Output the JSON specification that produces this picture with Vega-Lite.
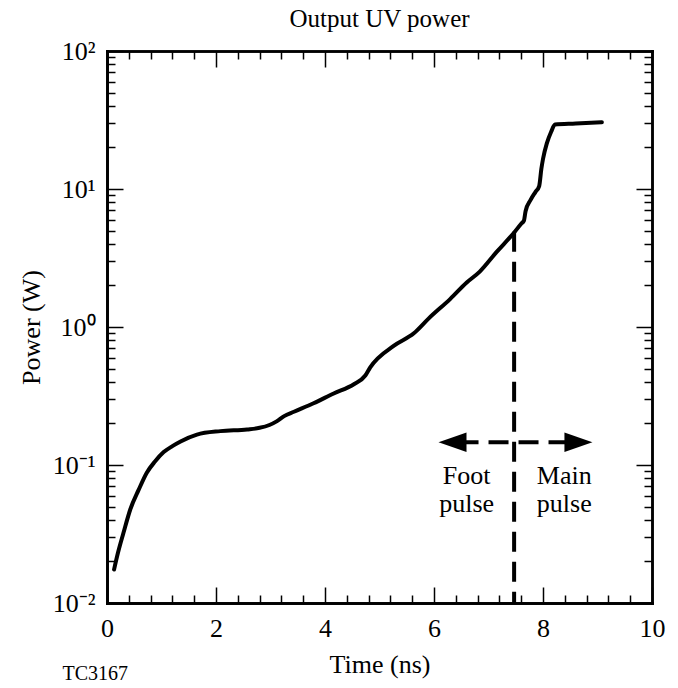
{
  "$schema": "https://vega.github.io/schema/vega-lite/v6.json",
  "width": 545,
  "height": 552,
  "autosize": {"type": "none"},
  "padding": {"left": 107, "top": 51, "right": 26, "bottom": 85},
  "background": "white",
  "config": {
    "view": {"stroke": null},
    "font": "Liberation Serif",
    "axis": {
      "grid": false,
      "domainColor": "black",
      "domainWidth": 2.5,
      "domainCap": "square",
      "tickColor": "black",
      "tickWidth": 1.5,
      "labelColor": "black",
      "labelFont": "Liberation Serif",
      "labelFontSize": 26,
      "titleFont": "Liberation Serif",
      "titleFontSize": 26,
      "titleFontWeight": "normal",
      "titleColor": "black",
      "labelFlush": false,
      "labelOverlap": false
    }
  },
  "title": {"text": "Output UV power", "font": "Liberation Serif", "fontSize": 25, "fontWeight": "normal", "color": "black", "offset": 6},
  "datasets": {
    "curve": [
      {"t": 0.13, "p": 0.0175}, {"t": 0.2, "p": 0.023}, {"t": 0.3, "p": 0.032}, {"t": 0.43, "p": 0.048},
      {"t": 0.58, "p": 0.066}, {"t": 0.73, "p": 0.088}, {"t": 0.88, "p": 0.106}, {"t": 1.04, "p": 0.124},
      {"t": 1.2, "p": 0.137}, {"t": 1.35, "p": 0.148}, {"t": 1.65, "p": 0.166}, {"t": 2.08, "p": 0.176},
      {"t": 2.57, "p": 0.181}, {"t": 2.8, "p": 0.186}, {"t": 2.98, "p": 0.195}, {"t": 3.12, "p": 0.208},
      {"t": 3.25, "p": 0.226}, {"t": 3.43, "p": 0.243},
      {"t": 3.79, "p": 0.28}, {"t": 4.16, "p": 0.33}, {"t": 4.53, "p": 0.385}, {"t": 4.74, "p": 0.445},
      {"t": 4.83, "p": 0.51}, {"t": 5.26, "p": 0.73}, {"t": 5.63, "p": 0.9}, {"t": 5.9, "p": 1.15},
      {"t": 6.3, "p": 1.6}, {"t": 6.6, "p": 2.1}, {"t": 6.84, "p": 2.52}, {"t": 7.15, "p": 3.5},
      {"t": 7.46, "p": 4.78}, {"t": 7.6, "p": 5.6}, {"t": 7.65, "p": 5.9}, {"t": 7.68, "p": 6.9},
      {"t": 7.77, "p": 8.3}, {"t": 7.86, "p": 9.5}, {"t": 7.93, "p": 10.5}, {"t": 7.97, "p": 14},
      {"t": 8.0, "p": 16.5}, {"t": 8.07, "p": 21.4}, {"t": 8.15, "p": 26}, {"t": 8.22, "p": 29.3},
      {"t": 8.6, "p": 29.8}, {"t": 9.08, "p": 30.5}
    ],
    "vline": [{"t": 7.47, "p": 4.9, "p2": 0.01}],
    "hline": [{"t": 6.45, "t2": 8.55, "p": 0.146}],
    "heads": [{"t": 6.34, "p": 0.146, "dir": "left"}, {"t": 8.65, "p": 0.146, "dir": "right"}],
    "notes": [
      {"t": 6.6, "p": 0.0728, "label": "Foot"},
      {"t": 6.6, "p": 0.0459, "label": "pulse"},
      {"t": 8.39, "p": 0.0728, "label": "Main"},
      {"t": 8.39, "p": 0.0459, "label": "pulse"}
    ]
  },
  "layer": [
    {
      "data": {"name": "curve"},
      "mark": {"type": "line", "color": "black", "strokeWidth": 4, "strokeJoin": "round", "strokeCap": "round", "interpolate": "monotone"},
      "encoding": {
        "x": {"field": "t", "type": "quantitative",
          "scale": {"domain": [0, 10], "nice": false, "zero": false},
          "axis": {"orient": "bottom", "values": [0, 2, 4, 6, 8, 10], "ticks": false, "labelPadding": 12, "title": "Time (ns)", "titlePadding": 10}},
        "y": {"field": "p", "type": "quantitative",
          "scale": {"type": "log", "domain": [0.01, 100], "nice": false},
          "axis": {"orient": "left", "values": [0.01, 0.1, 1, 10, 100], "ticks": false, "labelPadding": 12,
            "labelExpr": "datum.value >= 50 ? '10²' : datum.value >= 5 ? '10¹' : datum.value >= 0.5 ? '10⁰' : datum.value >= 0.05 ? '10⁻¹' : '10⁻²'",
            "title": "Power (W)", "titlePadding": 8}}
      }
    },
    {
      "data": {"name": "vline"},
      "mark": {"type": "rule", "color": "black", "strokeWidth": 4, "strokeDash": [20, 10]},
      "encoding": {
        "x": {"field": "t", "type": "quantitative",
          "axis": {"orient": "bottom", "values": [0, 2, 4, 6, 8, 10], "labels": false, "tickSize": -16,
            "title": "TC3167", "titleAnchor": "start", "titleAlign": "left", "titleX": -45, "titleY": 76,
            "titleBaseline": "alphabetic", "titleFontSize": 20}},
        "y": {"field": "p", "type": "quantitative",
          "axis": {"orient": "left", "values": [0.01, 0.1, 1, 10, 100], "labels": false, "tickSize": -16, "title": null}},
        "y2": {"field": "p2"}
      }
    },
    {
      "data": {"name": "hline"},
      "mark": {"type": "rule", "color": "black", "strokeWidth": 4, "strokeDash": [20, 10]},
      "encoding": {
        "x": {"field": "t", "type": "quantitative",
          "axis": {"orient": "bottom", "values": [0.4, 0.8, 1.2, 1.6, 2.4, 2.8, 3.2, 3.6, 4.4, 4.8, 5.2, 5.6, 6.4, 6.8, 7.2, 7.6, 8.4, 8.8, 9.2, 9.6],
            "labels": false, "tickSize": -8, "title": null}},
        "x2": {"field": "t2"},
        "y": {"field": "p", "type": "quantitative",
          "axis": {"orient": "left", "values": [0.02, 0.03, 0.04, 0.05, 0.06, 0.07, 0.08, 0.09, 0.2, 0.3, 0.4, 0.5, 0.6, 0.7, 0.8, 0.9, 2, 3, 4, 5, 6, 7, 8, 9, 20, 30, 40, 50, 60, 70, 80, 90],
            "labels": false, "tickSize": -8, "title": null}}
      }
    },
    {
      "data": {"name": "heads"},
      "mark": {"type": "point", "filled": true, "color": "black", "opacity": 1, "size": 784, "strokeWidth": 0},
      "encoding": {
        "x": {"field": "t", "type": "quantitative",
          "axis": {"orient": "top", "values": [0, 2, 4, 6, 8, 10], "labels": false, "tickSize": -16, "title": null}},
        "y": {"field": "p", "type": "quantitative",
          "axis": {"orient": "right", "values": [0.01, 0.1, 1, 10, 100], "labels": false, "tickSize": -16, "title": null}},
        "shape": {"field": "dir", "type": "nominal",
          "scale": {"domain": ["left", "right"], "range": ["M -1 0 L 1 -0.7 L 1 0.7 Z", "M 1 0 L -1 -0.7 L -1 0.7 Z"]},
          "legend": null}
      }
    },
    {
      "data": {"name": "notes"},
      "mark": {"type": "text", "font": "Liberation Serif", "fontSize": 26, "color": "black", "align": "center", "baseline": "alphabetic"},
      "encoding": {
        "x": {"field": "t", "type": "quantitative",
          "axis": {"orient": "top", "values": [0.4, 0.8, 1.2, 1.6, 2.4, 2.8, 3.2, 3.6, 4.4, 4.8, 5.2, 5.6, 6.4, 6.8, 7.2, 7.6, 8.4, 8.8, 9.2, 9.6],
            "labels": false, "tickSize": -8, "title": null}},
        "y": {"field": "p", "type": "quantitative",
          "axis": {"orient": "right", "values": [0.02, 0.03, 0.04, 0.05, 0.06, 0.07, 0.08, 0.09, 0.2, 0.3, 0.4, 0.5, 0.6, 0.7, 0.8, 0.9, 2, 3, 4, 5, 6, 7, 8, 9, 20, 30, 40, 50, 60, 70, 80, 90],
            "labels": false, "tickSize": -8, "title": null}},
        "text": {"field": "label"}
      }
    }
  ],
  "resolve": {"axis": {"x": "independent", "y": "independent"}}
}
